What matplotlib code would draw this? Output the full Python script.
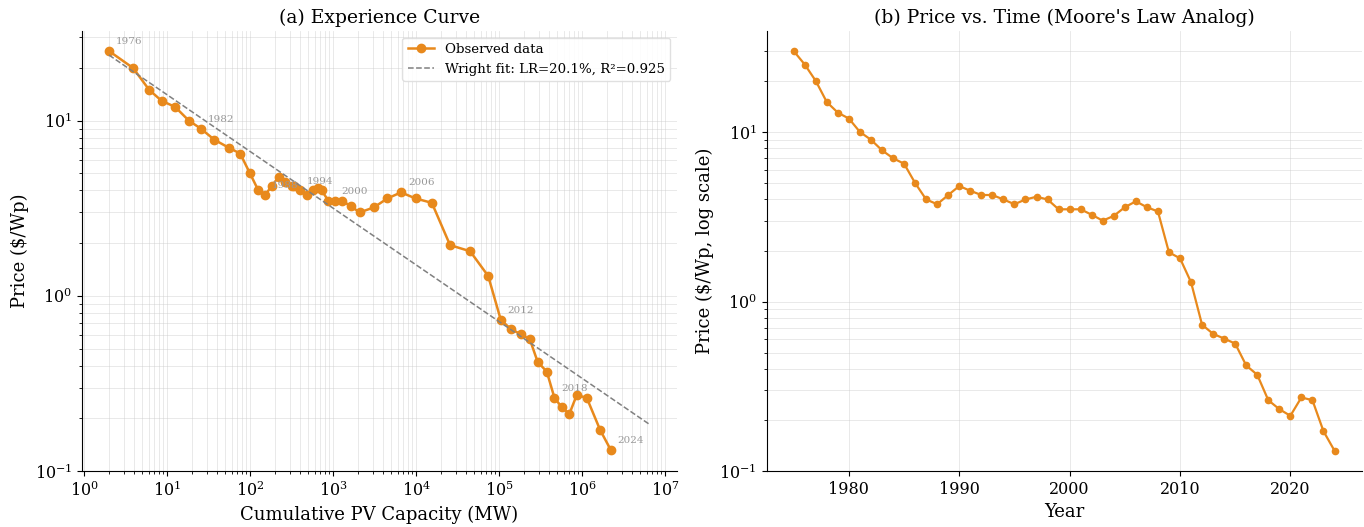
import numpy as np
import matplotlib
matplotlib.use("Agg")
import matplotlib.pyplot as plt

plt.rcParams['font.family'] = 'serif'
plt.rcParams['font.serif'] = ['DejaVu Serif']
plt.rcParams['mathtext.fontset'] = 'dejavuserif'

# price per watt, 1975-2024
years = np.arange(1975, 2025)
price = np.array([30, 25, 20, 15, 13, 12, 10, 9, 7.8, 7, 6.5, 5, 4, 3.75, 4.25,
                  4.8, 4.5, 4.25, 4.25, 4.0, 3.75, 4.0, 4.15, 4.0, 3.5, 3.5,
                  3.5, 3.25, 3.0, 3.2, 3.6, 3.9, 3.6, 3.4, 1.95, 1.8,
                  1.3, 0.73, 0.645, 0.605, 0.565, 0.42, 0.37, 0.262, 0.232, 0.212,
                  0.272, 0.262, 0.172, 0.132])

# cumulative capacity (MW), 1976-2024
cap_years = np.arange(1976, 2025)
capacity = np.array([2.0, 3.9, 6.1, 8.6, 12.5, 18.4, 25.7, 37, 56, 76,
                     100, 126, 151, 183, 223, 265, 317, 340, 400, 479,
                     577, 668, 732, 875, 1050, 1290, 1630, 2100, 3100, 4500,
                     6600, 9900, 15500, 25700, 44800, 74000, 105000, 140000, 183000, 235000,
                     292000, 376000, 465000, 569000, 703000, 863000, 1140000, 1650000, 2220000])
cap_price = price[1:]
label_years = [1976, 1982, 1988, 1994, 2000, 2006, 2012, 2018, 2024]

# Wright's law fit as reported in the legend
learning_rate = 0.201
r_squared = 0.925

orange = '#E8891C'

fig, (ax1, ax2) = plt.subplots(1, 2, figsize=(13.64, 5.27), dpi=100)
fig.subplots_adjust(left=0.0601, right=0.9982, bottom=0.106, top=0.941, wspace=0.151)

# (a) experience curve
slope = np.log2(1 - learning_rate)
icpt = np.mean(np.log10(cap_price) - slope * np.log10(capacity))
fit_x = np.logspace(np.log10(capacity.min()), np.log10(capacity.max()) + 0.47, 100)
fit_y = 10 ** (slope * np.log10(fit_x) + icpt)

ax1.plot(capacity, cap_price, color=orange, marker='o', markersize=6, lw=1.8, label='Observed data')
ax1.plot(fit_x, fit_y, color='gray', ls='--', lw=1.1,
         label=f'Wright fit: LR={learning_rate*100:.1f}%, R²={r_squared:.3f}')
for yr in label_years:
    i = list(cap_years).index(yr)
    ax1.annotate(str(yr), (capacity[i], cap_price[i]), xytext=(5, 5), textcoords='offset points',
                 fontsize=7.5, color='#999999')
ax1.set_xscale('log')
ax1.set_yscale('log')
ax1.set_ylim(bottom=0.1)
ax1.set_xlabel('Cumulative PV Capacity (MW)', fontsize=13)
ax1.set_ylabel('Price (\\$/Wp)', fontsize=13)
ax1.set_title('(a) Experience Curve', fontsize=13.5)
ax1.grid(True, which='both', color='#cccccc', alpha=0.5, lw=0.6)
ax1.legend(loc='upper right', fontsize=9.6, framealpha=0.9, edgecolor='#dddddd')

# (b) price vs time
ax2.plot(years, price, color=orange, marker='o', markersize=4.5, lw=1.6)
ax2.set_yscale('log')
ax2.set_ylim(bottom=0.1)
ax2.set_xlabel('Year', fontsize=13)
ax2.set_ylabel('Price (\\$/Wp, log scale)', fontsize=13)
ax2.set_title("(b) Price vs. Time (Moore's Law Analog)", fontsize=13.5)
ax2.grid(True, which='major', color='#cccccc', alpha=0.5, lw=0.6)
ax2.grid(True, which='minor', axis='y', color='#cccccc', alpha=0.5, lw=0.6)

for ax in (ax1, ax2):
    ax.spines['top'].set_visible(False)
    ax.spines['right'].set_visible(False)
    ax.tick_params(labelsize=11.5)

fig.savefig('out.png', dpi=100)
